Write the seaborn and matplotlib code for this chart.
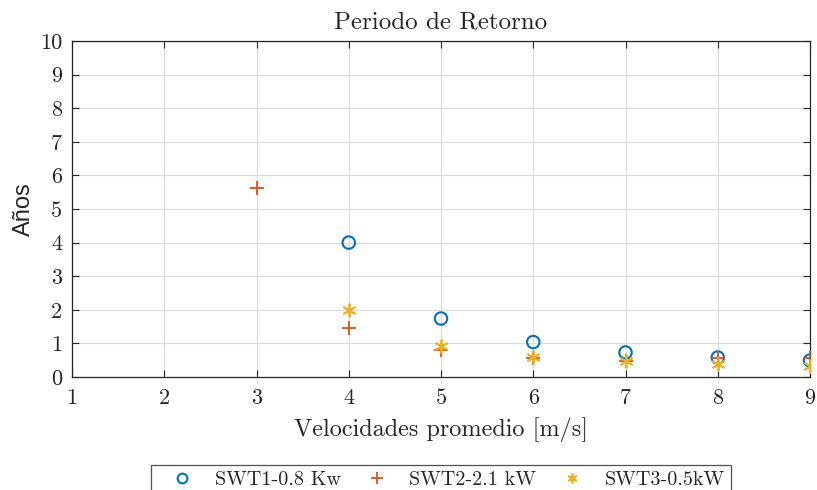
import matplotlib
matplotlib.use("Agg")
import matplotlib.pyplot as plt
from matplotlib.lines import Line2D
import seaborn as sns
import pandas as pd

# Velocidades promedio del viento [m/s] y periodo de retorno [años] por turbina
vel_swt1 = [4, 5, 6, 7, 8, 9]
anos_swt1 = [4.0, 1.74, 1.04, 0.73, 0.58, 0.49]

vel_swt2 = [3, 4, 5, 6, 7, 8, 9]
anos_swt2 = [5.63, 1.46, 0.81, 0.58, 0.47, 0.57, 0.56]

vel_swt3 = [4, 5, 6, 7, 8, 9]
anos_swt3 = [2.0, 0.93, 0.59, 0.47, 0.39, 0.32]

series_names = ["SWT1-0.8 Kw", "SWT2-2.1 kW", "SWT3-0.5kW"]
colors = ["#0072BD", "#D95319", "#EDB120"]

x_ticks = list(range(1, 10))
y_ticks = list(range(0, 11))

sns.set_style("white")
serif = ["cmr10", "DejaVu Serif"]
plt.rcParams["axes.formatter.use_mathtext"] = True
plt.rcParams["mathtext.fontset"] = "cm"

fig = plt.figure(figsize=(8.17, 4.90), dpi=100)
ax = fig.add_axes([72 / 817, 1 - 377 / 490, (810 - 72) / 817, (377 - 41) / 490])

df1 = pd.DataFrame({"v": vel_swt1, "a": anos_swt1})
df2 = pd.DataFrame({"v": vel_swt2, "a": anos_swt2})
df3 = pd.DataFrame({"v": vel_swt3, "a": anos_swt3})

sns.scatterplot(data=df1, x="v", y="a", ax=ax, marker="o", s=80,
                facecolors="none", edgecolors=colors[0], linewidth=1.5, zorder=3)
sns.scatterplot(data=df2, x="v", y="a", ax=ax, marker="+", s=110,
                color=colors[1], linewidth=1.3, zorder=4)
sns.scatterplot(data=df3, x="v", y="a", ax=ax, marker=(6, 2, 0), s=80,
                color=colors[2], linewidth=1.3, zorder=5)

ax.set_xlim(1, 9)
ax.set_ylim(0, 10)
ax.set_xticks(x_ticks)
ax.set_yticks(y_ticks)
ax.set_xticklabels([str(t) for t in x_ticks], fontfamily=serif, fontsize=16, color="#262626")
ax.set_yticklabels([str(t) for t in y_ticks], fontfamily=serif, fontsize=16, color="#262626")
ax.grid(True, color="#DCDCDC", linewidth=0.9, zorder=0)
ax.set_axisbelow(True)
ax.tick_params(direction="in", length=5, width=0.8, color="#262626",
               top=True, right=True, bottom=True, left=True)
ax.tick_params(axis="x", pad=8)
ax.tick_params(axis="y", pad=7)
for sp in ax.spines.values():
    sp.set_visible(True)
    sp.set_color("#262626")
    sp.set_linewidth(0.9)

ax.set_title("Periodo de Retorno", fontfamily=serif, fontsize=18, pad=9)
ax.set_xlabel("Velocidades promedio [m/s]", fontfamily=serif, fontsize=17.5, labelpad=7)
ax.set_ylabel("Años", fontfamily="Liberation Sans", fontsize=17, labelpad=4)

handles = [
    Line2D([], [], linestyle="none", marker="o", markersize=7, markerfacecolor="none",
           markeredgecolor=colors[0], markeredgewidth=1.5),
    Line2D([], [], linestyle="none", marker="+", markersize=9,
           markeredgecolor=colors[1], markeredgewidth=1.3),
    Line2D([], [], linestyle="none", marker=(6, 2, 0), markersize=7,
           markeredgecolor=colors[2], markeredgewidth=1.3),
]
leg = fig.legend(handles, series_names, loc="upper center", ncol=3, numpoints=1,
                 bbox_to_anchor=(441 / 817, 1 - 465 / 490), frameon=True, fancybox=False,
                 prop={"family": serif, "size": 14.5}, columnspacing=0.56, handletextpad=0.36,
                 borderpad=0.3, borderaxespad=0, handlelength=2.48)
leg.get_frame().set_edgecolor("#262626")
leg.get_frame().set_linewidth(0.9)

fig.savefig("out.png", dpi=100)
